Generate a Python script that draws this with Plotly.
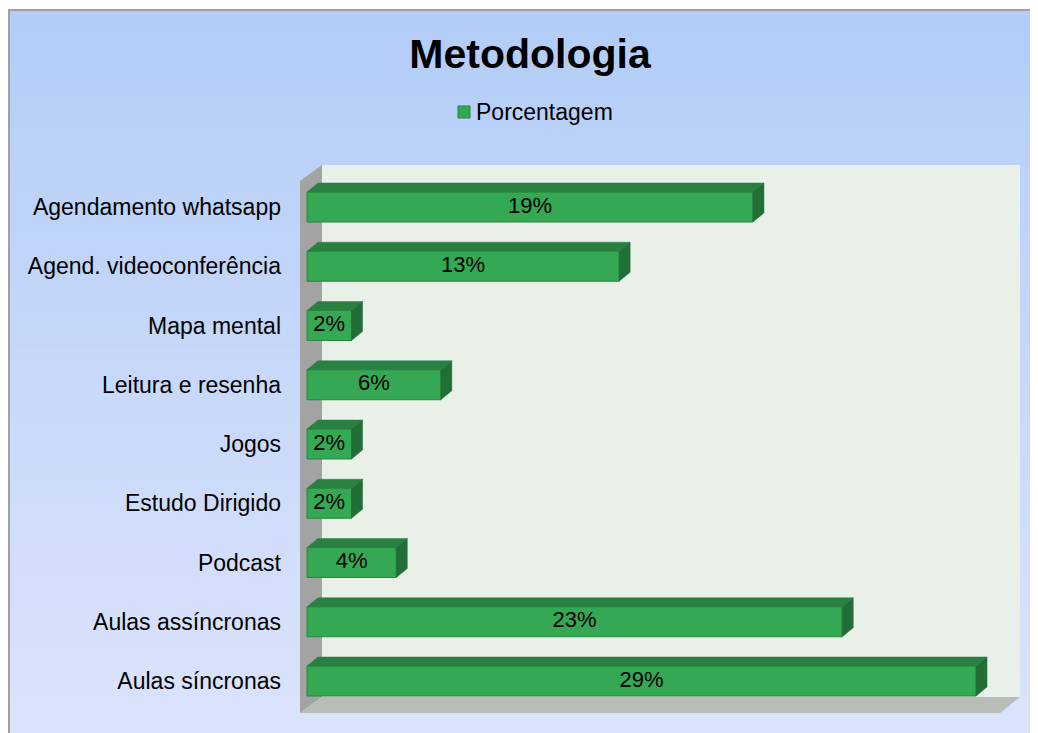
import plotly.graph_objects as go

# ---- data ----
categories = ["Aulas síncronas", "Aulas assíncronas", "Podcast", "Estudo Dirigido",
              "Jogos", "Leitura e resenha", "Mapa mental", "Agend. videoconferência",
              "Agendamento whatsapp"]
values = [28.85, 23.08, 3.85, 1.92, 1.92, 5.77, 1.92, 13.46, 19.23]
labels = ["29%", "23%", "4%", "2%", "2%", "6%", "2%", "13%", "19%"]
series_name = "Porcentagem"
title_text = "Metodologia"

OX, OY = 8, 8  # page offset of the figure in the screenshot
W, H = 1038 - OX, 733 - OY
FONT = "Liberation Sans, Arial"

# plot area (screen coords)
PL, PR, PT, PB = 300, 1020, 165, 713
ML, MR, MT, MB = PL - OX, W - (PR - OX), PT - OY, H - (PB - OY)
PW, PH = W - ML - MR, H - MT - MB

def px(x):
    return (x - OX - ML) / PW

def py(y):
    return (H - MB - (y - OY)) / PH

# axis scaling (style)
x_per_px = 1 / 23.19
y_per_px = 1 / 59.25
X0, Y0 = 307, 681  # screen pos of value 0 / first category
xr = [-(X0 - PL) * x_per_px, (PR - X0) * x_per_px]
yr = [-(PB - Y0) * y_per_px, (Y0 - PT) * y_per_px]
bar_w = 30 * y_per_px
dx = 11 * x_per_px
dy = 9 * y_per_px

idx = list(range(len(categories)))

fig = go.Figure()

# front faces
fig.add_trace(go.Bar(
    y=idx, x=values, orientation="h", width=bar_w, name=series_name,
    marker=dict(color="#34a853", line=dict(color="#27863d", width=1)),
    showlegend=False, hoverinfo="skip"))

# top and side faces
tx, ty = [], []
sx, sy = [], []
for i, v in zip(idx, values):
    t = i + bar_w / 2
    b = i - bar_w / 2
    tx += [0, v, v + dx, dx, 0, None]
    ty += [t, t, t + dy, t + dy, t, None]
    sx += [v, v + dx, v + dx, v, v, None]
    sy += [b, b + dy, t + dy, t, b, None]
fig.add_trace(go.Scatter(x=tx, y=ty, fill="toself", mode="lines",
                         fillcolor="#2a8040", line=dict(color="#2a8040", width=0.5),
                         showlegend=False, hoverinfo="skip"))
fig.add_trace(go.Scatter(x=sx, y=sy, fill="toself", mode="lines",
                         fillcolor="#216e36", line=dict(color="#216e36", width=0.5),
                         showlegend=False, hoverinfo="skip"))

# value labels
fig.add_trace(go.Scatter(x=[v / 2 for v in values], y=idx, mode="text", text=labels,
                         textfont=dict(family=FONT, size=22, color="#000000"),
                         showlegend=False, hoverinfo="skip"))

shapes = []
# background gradient
top_c = (179, 205, 247)
bot_c = (219, 227, 252)
n = 60
y_top, y_bot = 10, H + OY
for k in range(n):
    f = k / (n - 1)
    c = tuple(int(round(top_c[j] + (bot_c[j] - top_c[j]) * f)) for j in range(3))
    y0 = y_top + (y_bot - y_top) * k / n
    y1 = y_top + (y_bot - y_top) * (k + 1) / n + 1
    shapes.append(dict(type="rect", xref="paper", yref="paper", layer="below",
                       x0=px(8), x1=px(W + OX + 2), y0=py(y0), y1=py(min(y1, y_bot + 2)),
                       fillcolor="rgb(%d,%d,%d)" % c, line=dict(width=0)))
# chart border
shapes.append(dict(type="line", xref="paper", yref="paper", layer="below",
                   x0=px(8), x1=px(W + OX + 2), y0=py(10), y1=py(10),
                   line=dict(color="#a0a0a0", width=2)))
shapes.append(dict(type="line", xref="paper", yref="paper", layer="below",
                   x0=px(9), x1=px(9), y0=py(10), y1=py(H + OY + 2),
                   line=dict(color="#a0a0a0", width=2)))
# back wall
shapes.append(dict(type="rect", xref="paper", yref="paper", layer="below",
                   x0=px(322), x1=px(1020), y0=py(697), y1=py(165),
                   fillcolor="#e9f0e8", line=dict(width=0)))
# left wall
shapes.append(dict(type="path", xref="paper", yref="paper", layer="below",
                   path="M %f %f L %f %f L %f %f L %f %f Z" % (
                       px(300), py(181), px(322), py(165), px(322), py(697), px(300), py(713)),
                   fillcolor="#a3a3a3", line=dict(width=0)))
# floor
shapes.append(dict(type="path", xref="paper", yref="paper", layer="below",
                   path="M %f %f L %f %f L %f %f L %f %f Z" % (
                       px(300), py(713), px(322), py(697), px(1020), py(697), px(1000), py(713)),
                   fillcolor="#babdb7", line=dict(width=0)))
# legend symbol
shapes.append(dict(type="rect", xref="paper", yref="paper",
                   x0=px(458), x1=px(470), y0=py(118), y1=py(106),
                   fillcolor="#34a853", line=dict(color="#27863d", width=1)))

annotations = [dict(text=series_name, xref="paper", yref="paper", x=px(474), y=py(112),
                    xanchor="left", yanchor="middle", showarrow=False,
                    font=dict(family=FONT, size=23, color="#000000"))]

fig.update_layout(
    width=W, height=H,
    margin=dict(l=ML, r=MR, t=MT, b=MB),
    paper_bgcolor="#ffffff",
    plot_bgcolor="rgba(0,0,0,0)",
    shapes=shapes,
    annotations=annotations,
    title=dict(text="<b>%s</b>" % title_text, xref="container", yref="container",
               x=(530 - OX) / W, y=1 - (54 - OY) / H, xanchor="center", yanchor="middle",
               font=dict(family=FONT, size=41, color="#000000")),
    showlegend=False,
    xaxis=dict(range=xr, showgrid=False, zeroline=False, showticklabels=False,
               showline=False, fixedrange=True),
    yaxis=dict(range=yr, tickvals=idx, ticktext=categories, showgrid=False, zeroline=False,
               showline=False, ticks="", ticklabelstandoff=18,
               tickfont=dict(family=FONT, size=23, color="#000000")),
)

fig.write_html("out.html")
